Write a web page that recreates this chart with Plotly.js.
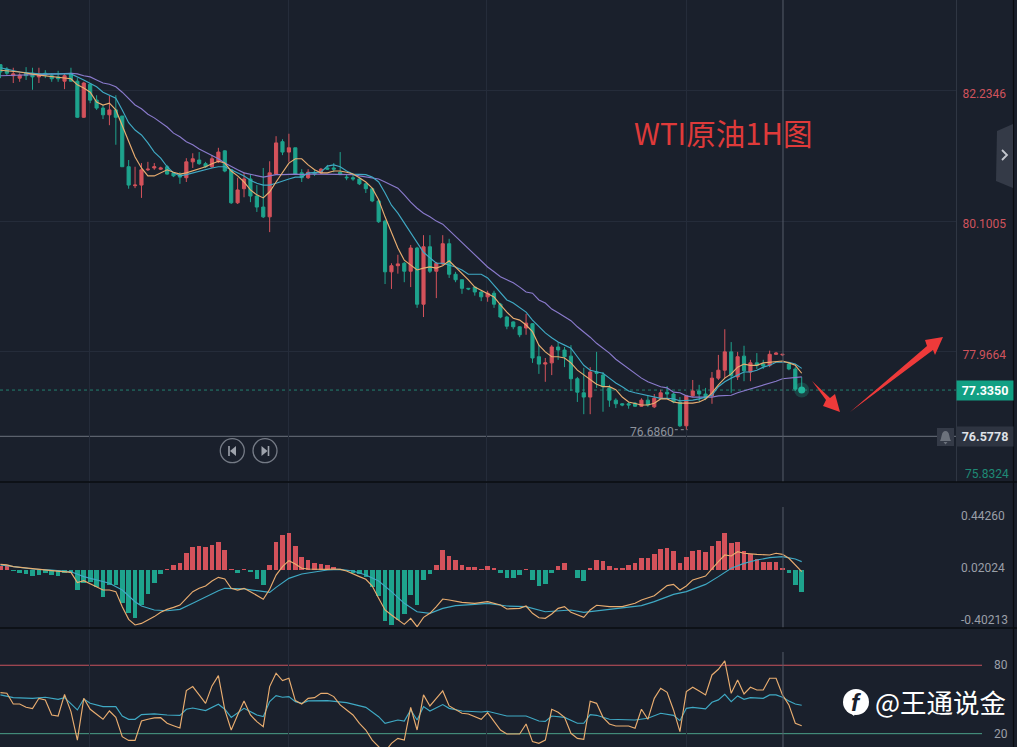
<!DOCTYPE html>
<html><head><meta charset="utf-8">
<script src="https://cdn.plot.ly/plotly-3.0.1.min.js"></script>
<style>html,body{margin:0;padding:0;background:#1a202c;overflow:hidden}#c{width:1017px;height:747px}</style>
</head><body><div id="c"></div>
<script>
// Candles, one per bar (index 0..125)
const candleHigh=[82.67,82.62,82.61,82.52,82.62,82.61,82.61,82.57,82.52,82.56,82.52,82.61,82.44,82.38,82.36,82.16,82.00,82.15,82.16,81.82,81.10,80.99,81.05,81.07,81.05,80.99,81.02,80.90,80.90,81.13,81.21,81.23,81.07,81.18,81.30,81.26,80.94,80.81,80.90,80.87,80.69,80.97,81.08,81.49,81.44,81.53,81.30,80.95,80.95,80.94,80.97,81.02,81.05,81.23,80.87,80.86,80.81,80.72,80.64,80.45,80.12,79.41,79.55,79.43,79.71,79.68,79.87,79.87,79.43,79.87,79.81,79.27,79.14,79.00,79.02,78.96,78.96,78.96,78.76,78.55,78.46,78.38,78.58,78.43,78.07,77.86,78.07,78.12,78.04,78.07,77.55,77.70,77.71,77.96,77.63,77.42,77.20,77.12,77.14,77.14,77.20,77.24,77.27,77.34,77.40,77.29,77.22,77.25,77.50,77.42,77.37,77.63,77.91,78.33,78.12,77.96,78.06,77.83,77.94,77.83,77.98,77.96,77.92,77.78,77.71,77.55];
const candleLow=[82.44,82.48,82.36,82.38,82.41,82.25,82.36,82.44,82.38,82.38,82.26,82.39,81.79,81.79,82.03,81.92,81.77,81.67,81.35,80.99,80.63,80.64,80.48,80.92,80.94,80.94,80.86,80.82,80.71,80.74,80.97,81.02,80.97,80.97,81.05,80.90,80.38,80.38,80.49,80.41,80.25,80.15,79.92,80.86,81.18,81.07,80.86,80.74,80.79,80.84,80.87,80.94,80.90,80.86,80.77,80.76,80.69,80.56,80.41,80.07,79.07,78.99,79.24,79.10,79.02,78.68,78.53,79.25,78.84,79.38,79.17,79.10,78.91,78.97,78.88,78.79,78.78,78.68,78.51,78.33,78.33,78.20,78.24,77.78,77.60,77.47,77.58,77.83,77.71,77.32,77.14,76.94,76.94,77.37,76.98,77.06,77.04,77.07,77.03,77.06,77.06,77.06,77.04,77.19,77.20,77.12,76.73,76.686,77.22,77.14,77.17,77.11,77.50,77.53,77.29,77.50,77.48,77.48,77.68,77.68,77.71,77.91,77.89,77.66,77.32,77.32];
const candleTop=[82.66,82.59,82.51,82.49,82.52,82.52,82.51,82.52,82.48,82.46,82.48,82.52,82.39,82.36,82.34,82.08,81.95,81.92,81.92,81.82,80.99,80.69,80.94,80.95,80.99,80.97,80.99,80.89,80.86,81.07,81.12,81.10,81.04,81.12,81.23,81.25,80.94,80.61,80.79,80.79,80.51,80.33,80.89,81.38,81.40,81.30,81.30,80.89,80.90,80.90,80.95,80.97,80.97,80.90,80.82,80.81,80.79,80.71,80.63,80.43,80.10,79.37,79.40,79.41,79.66,79.66,79.68,79.68,79.41,79.73,79.73,79.23,79.14,79.00,79.02,78.94,78.92,78.92,78.74,78.53,78.45,78.37,78.43,78.42,77.88,77.78,78.04,78.04,77.99,77.89,77.52,77.29,77.63,77.63,77.58,77.37,77.17,77.11,77.11,77.12,77.17,77.17,77.20,77.29,77.30,77.27,77.14,77.24,77.32,77.32,77.27,77.53,77.66,77.96,77.96,77.88,77.89,77.78,77.78,77.76,77.92,77.94,77.92,77.76,77.68,77.37];
const candleBottom=[82.54,82.52,82.48,82.44,82.48,82.46,82.46,82.49,82.43,82.43,82.39,82.39,81.80,81.80,82.08,81.95,81.84,81.84,81.80,80.99,80.69,80.68,80.69,80.94,80.97,80.95,80.87,80.84,80.82,80.81,81.07,81.04,80.99,80.99,81.07,80.92,80.40,80.40,80.63,80.51,80.33,80.17,80.17,80.87,81.23,81.23,80.87,80.81,80.81,80.87,80.89,80.95,80.95,80.86,80.81,80.79,80.71,80.63,80.43,80.09,79.27,79.27,79.37,79.28,79.28,78.74,78.74,79.28,79.28,79.40,79.23,79.14,79.00,78.99,78.94,78.86,78.86,78.74,78.53,78.38,78.37,78.24,78.35,77.86,77.76,77.76,77.78,77.99,77.88,77.52,77.30,77.22,77.22,77.61,77.39,77.17,77.11,77.09,77.09,77.07,77.07,77.09,77.06,77.20,77.27,77.14,76.75,76.75,77.24,77.27,77.20,77.24,77.53,77.66,77.57,77.55,77.65,77.63,77.74,77.73,77.74,77.92,77.91,77.68,77.35,77.335];
const risingBars=[2,3,6,10,13,17,21,22,23,24,25,29,30,33,34,37,38,42,43,45,48,50,61,62,64,66,68,69,76,82,85,86,92,100,102,103,107,108,111,112,113,115,117,120,121,122];
// Moving averages on price: [bar index, price]
const maFast=[[0,82.57],[3,82.54],[6,82.49],[9,82.46],[11,82.43],[12,82.33],[13,82.28],[14,82.21],[15,82.05],[16,82.00],[17,82.03],[18,81.92],[19,81.67],[20,81.40],[21,81.15],[22,80.97],[23,80.84],[24,80.84],[25,80.89],[26,80.94],[27,80.90],[28,80.87],[29,80.89],[30,80.92],[31,80.95],[32,80.99],[33,81.04],[34,81.08],[35,81.05],[36,80.92],[37,80.84],[38,80.74],[39,80.61],[40,80.53],[41,80.48],[42,80.58],[43,80.74],[44,80.90],[45,81.05],[46,81.12],[47,81.12],[48,81.02],[49,80.94],[50,80.89],[51,80.89],[52,80.92],[53,80.92],[54,80.90],[55,80.87],[56,80.81],[57,80.74],[58,80.64],[59,80.45],[60,80.17],[61,79.91],[62,79.66],[63,79.46],[64,79.38],[65,79.30],[66,79.33],[67,79.35],[68,79.33],[69,79.37],[70,79.45],[71,79.35],[72,79.25],[73,79.14],[74,79.02],[75,78.97],[76,78.92],[77,78.86],[78,78.73],[79,78.61],[80,78.51],[81,78.48],[82,78.40],[83,78.29],[84,78.07],[85,77.96],[86,77.88],[87,77.88],[88,77.86],[89,77.78],[90,77.66],[91,77.58],[92,77.50],[93,77.43],[94,77.39],[95,77.39],[96,77.34],[97,77.22],[98,77.14],[99,77.11],[100,77.09],[101,77.09],[102,77.12],[103,77.19],[104,77.19],[105,77.14],[106,77.12],[107,77.12],[108,77.12],[109,77.14],[110,77.19],[111,77.29],[112,77.42],[113,77.53],[114,77.60],[115,77.71],[116,77.76],[117,77.74],[118,77.74],[119,77.78],[120,77.79],[121,77.81],[122,77.81],[123,77.78],[124,77.74],[125,77.61]];
const maMid=[[0,82.61],[3,82.54],[6,82.51],[9,82.51],[11,82.51],[13,82.41],[14,82.36],[15,82.30],[16,82.21],[17,82.16],[18,82.11],[19,81.92],[20,81.71],[21,81.59],[22,81.51],[23,81.38],[24,81.23],[25,81.13],[26,80.99],[27,80.89],[28,80.84],[29,80.86],[30,80.89],[31,80.92],[32,80.95],[33,80.97],[34,80.99],[35,80.99],[36,80.94],[37,80.89],[38,80.84],[39,80.77],[40,80.72],[41,80.69],[42,80.69],[43,80.72],[44,80.76],[45,80.79],[46,80.82],[47,80.82],[48,80.89],[49,80.89],[50,80.90],[51,81.00],[52,81.02],[53,80.99],[54,80.92],[55,80.87],[56,80.86],[57,80.86],[58,80.82],[59,80.74],[60,80.56],[61,80.36],[62,80.23],[63,80.07],[64,79.91],[65,79.74],[66,79.59],[67,79.50],[68,79.41],[69,79.41],[70,79.38],[71,79.35],[72,79.30],[73,79.23],[74,79.23],[75,79.23],[76,79.17],[77,79.05],[78,78.92],[79,78.81],[80,78.76],[81,78.69],[82,78.61],[83,78.48],[84,78.37],[85,78.27],[86,78.19],[87,78.12],[88,78.07],[89,78.02],[90,77.88],[91,77.74],[92,77.66],[93,77.63],[94,77.61],[95,77.53],[96,77.45],[97,77.39],[98,77.32],[99,77.29],[100,77.27],[101,77.25],[102,77.22],[103,77.20],[104,77.20],[105,77.19],[106,77.16],[107,77.16],[108,77.17],[109,77.19],[110,77.22],[111,77.25],[112,77.39],[113,77.47],[114,77.53],[115,77.58],[116,77.63],[117,77.63],[118,77.66],[119,77.71],[120,77.74],[121,77.79],[122,77.79],[123,77.79],[124,77.76],[125,77.69]];
const maSlow=[[0,82.48],[3,82.49],[6,82.49],[9,82.51],[11,82.52],[12,82.51],[13,82.48],[14,82.46],[15,82.41],[16,82.36],[17,82.34],[18,82.30],[19,82.21],[20,82.11],[21,82.00],[22,81.94],[23,81.85],[24,81.79],[25,81.71],[26,81.64],[27,81.54],[28,81.48],[29,81.40],[30,81.35],[31,81.28],[32,81.23],[33,81.17],[34,81.12],[35,81.05],[36,80.99],[37,80.94],[38,80.89],[39,80.87],[40,80.84],[41,80.82],[42,80.84],[43,80.86],[44,80.86],[45,80.87],[46,80.87],[47,80.86],[48,80.87],[50,80.87],[52,80.87],[53,80.86],[55,80.86],[56,80.84],[57,80.82],[58,80.81],[59,80.79],[60,80.74],[61,80.69],[62,80.64],[63,80.53],[64,80.41],[65,80.31],[66,80.23],[67,80.17],[68,80.10],[69,80.05],[70,79.95],[71,79.84],[72,79.74],[73,79.64],[74,79.55],[75,79.45],[76,79.35],[77,79.27],[78,79.19],[79,79.14],[80,79.09],[81,79.02],[82,78.94],[83,78.92],[84,78.81],[85,78.76],[86,78.66],[87,78.60],[88,78.53],[89,78.47],[90,78.37],[91,78.29],[92,78.20],[93,78.10],[94,78.02],[95,77.94],[96,77.84],[97,77.76],[98,77.68],[99,77.61],[100,77.53],[101,77.47],[102,77.43],[103,77.39],[104,77.37],[105,77.30],[106,77.29],[107,77.24],[108,77.22],[109,77.22],[110,77.22],[111,77.22],[112,77.24],[113,77.24],[114,77.25],[115,77.29],[116,77.32],[117,77.35],[118,77.39],[119,77.42],[120,77.45],[121,77.48],[122,77.52],[123,77.53],[124,77.55],[125,77.55]];
// MACD histogram, one per bar
const macdHist=[.035,.035,-.008,-.022,-.035,-.049,-.038,-.027,-.041,-.046,-.027,-.027,-.163,-.108,-.095,-.136,-.217,-.122,-.122,-.271,-.352,-.393,-.285,-.198,-.108,-.033,.011,.041,.06,.136,.19,.198,.19,.2,.23,.163,.005,-.027,.008,-.019,-.076,-.122,.041,.23,.285,.304,.195,.108,.081,.06,.049,.043,.027,.008,-.008,-.022,-.033,-.06,-.136,-.211,-.412,-.447,-.407,-.36,-.203,-.285,-.081,-.033,.041,.163,.117,.081,.041,.027,.022,.011,.035,.016,-.022,-.065,-.065,-.038,.005,-.081,-.13,-.114,-.022,.035,.06,.003,-.065,-.087,.019,.081,.073,.035,.016,.019,.041,.054,.095,.098,.13,.168,.182,.154,.054,.108,.154,.163,.149,.195,.238,.304,.222,.23,.157,.127,.089,.062,.065,.068,.019,-.027,-.122,-.176];
const macdDif=[[0,.046],[1,.041],[2,.027],[5,.008],[8,-.005],[11,-.019],[12,-.103],[13,-.087],[14,-.114],[15,-.136],[16,-.163],[17,-.163],[18,-.176],[19,-.298],[20,-.401],[21,-.447],[22,-.434],[23,-.407],[24,-.379],[25,-.344],[26,-.32],[27,-.304],[28,-.285],[29,-.23],[30,-.176],[31,-.149],[32,-.13],[33,-.089],[34,-.06],[35,-.073],[36,-.149],[37,-.163],[38,-.149],[39,-.176],[40,-.209],[41,-.238],[42,-.157],[43,-.041],[44,.027],[45,.076],[46,.049],[47,.014],[48,.008],[49,.005],[51,.005],[52,.008],[53,.005],[54,-.008],[55,-.033],[56,-.054],[57,-.076],[58,-.13],[59,-.23],[60,-.325],[61,-.366],[62,-.407],[63,-.442],[64,-.393],[65,-.461],[66,-.385],[67,-.352],[68,-.298],[69,-.236],[70,-.244],[71,-.252],[72,-.263],[74,-.271],[76,-.257],[78,-.285],[79,-.317],[81,-.312],[82,-.293],[83,-.352],[84,-.388],[85,-.393],[86,-.358],[87,-.312],[88,-.298],[89,-.344],[91,-.385],[92,-.325],[93,-.287],[95,-.298],[97,-.298],[99,-.271],[100,-.244],[102,-.209],[104,-.127],[105,-.117],[106,-.163],[107,-.13],[108,-.081],[110,-.049],[111,.014],[112,.068],[113,.122],[114,.114],[115,.149],[116,.136],[118,.127],[120,.122],[121,.136],[122,.127],[123,.095],[124,.041],[125,-.014]];
const macdDea=[[0,.041],[2,.027],[5,.008],[8,0],[11,-.014],[13,-.054],[15,-.081],[17,-.108],[19,-.163],[21,-.258],[22,-.293],[23,-.312],[24,-.325],[26,-.331],[28,-.32],[30,-.271],[32,-.217],[34,-.168],[35,-.149],[36,-.149],[38,-.154],[40,-.168],[42,-.182],[43,-.141],[45,-.068],[47,-.033],[49,-.014],[51,0],[53,.005],[55,-.008],[57,-.041],[59,-.089],[61,-.176],[63,-.271],[65,-.339],[67,-.352],[69,-.312],[71,-.29],[74,-.279],[76,-.271],[79,-.293],[82,-.298],[85,-.339],[87,-.333],[89,-.325],[91,-.344],[93,-.333],[97,-.312],[100,-.29],[102,-.257],[105,-.198],[107,-.176],[110,-.117],[112,-.054],[114,.014],[116,.054],[118,.081],[120,.1],[122,.108],[124,.089],[125,.068]];
// RSI lines
const rsiFast=[[0,56],[1,55.4],[2,46],[3,46],[4,43.1],[5,42],[6,51],[7,49.6],[8,36.4],[9,35.5],[10,54.5],[11,39.3],[12,14.4],[13,51],[14,41.4],[15,37.3],[16,32.6],[17,39.9],[18,34.3],[19,17.4],[20,14.1],[21,14.1],[22,31.1],[23,32.6],[24,33.8],[25,34],[26,29.1],[27,27],[28,25],[29,57.8],[30,61.3],[31,54],[32,46.6],[33,61.9],[34,70.9],[35,40.8],[36,23.2],[37,36.4],[38,48.7],[39,36.4],[40,30.5],[41,26.1],[42,61.3],[43,73],[44,66.5],[45,68.6],[46,49],[47,46],[48,51],[49,51.6],[50,55.4],[51,55.4],[52,52.5],[53,45.2],[54,40.8],[55,36.4],[56,29.1],[57,23.2],[58,14.4],[59,8.6],[60,4.2],[61,11.5],[62,15.9],[63,14.4],[64,43.1],[65,23.2],[66,54],[67,44.3],[68,51],[69,57.5],[70,44.3],[71,40.8],[72,37.9],[73,37.3],[74,34.9],[75,32.6],[76,38.4],[77,30.5],[78,23.2],[79,19.7],[80,19.7],[81,19.7],[82,28.5],[83,13],[84,11.5],[85,14.4],[86,41.4],[87,38.7],[88,34.3],[89,20.3],[90,15.9],[91,15],[92,48.4],[93,46.6],[94,34.3],[95,28.5],[96,26.7],[97,26.7],[98,26.7],[99,24.7],[100,41.4],[101,32.6],[102,51],[103,59.8],[104,56.3],[105,40.8],[106,21.8],[107,56.9],[108,60.7],[109,57.5],[110,54],[111,71.5],[112,76.5],[113,83.8],[114,55.4],[115,67.1],[116,54.8],[117,60.7],[118,58.3],[119,58.3],[120,68.6],[121,68.6],[122,54],[123,45.2],[124,29.1],[125,27]];
const rsiSlow=[[0,54],[2,51.6],[5,51],[7,51.9],[9,50.1],[10,51.6],[12,40.8],[13,50.4],[14,46.6],[16,43.7],[18,43.7],[19,35.5],[20,32.6],[21,32.6],[22,36.7],[24,37.3],[26,36.4],[28,36.1],[29,41.4],[30,42.5],[32,40.2],[34,45.8],[35,41.4],[36,34.3],[38,42.2],[40,36.4],[41,34.9],[42,48.1],[43,53.4],[44,51.9],[45,52.5],[46,48.1],[47,46.6],[48,48.7],[51,49],[54,47.2],[57,43.1],[59,34.9],[60,29.1],[62,32],[63,31.1],[64,40.8],[65,32],[66,43.7],[67,39.9],[69,45.5],[70,42.2],[72,39.9],[75,39],[76,39.6],[79,35.5],[82,35.5],[84,31.1],[85,30.8],[86,35.5],[88,34.3],[90,29.1],[91,29.1],[92,36.7],[93,36.1],[95,32.6],[99,32],[101,33.5],[103,37.9],[105,36.1],[106,31.4],[107,42.2],[108,43.1],[110,41.7],[111,47.5],[112,49.6],[113,54.5],[114,48.1],[115,53.1],[116,50.1],[117,51.6],[119,51],[120,54],[121,54],[122,51.9],[123,48.7],[124,46],[125,44.9]];
// Axis labels and levels
const priceTicks=[82.2346,80.1005,77.9664];
const macdTicks=[0.44260,0.02024,-0.40213];
const rsiTicks=[80,20];
const lastPrice=77.3350, alertPrice=76.5778, lowestPrice=76.6860, axisBottomPrice=75.8324;
const crosshairBar=122.08;
const gridBars=[13.82,44.86,75.9,107.1];

const RED='#d4525b',TEAL='#1ea38d',BG='#1a202c',GRID='#252c3a',ORANGE='#e9ad70',CYAN='#3fa9c4',PURPLE='#8a7acc';
const W=956,H=747;
const bars=candleHigh.map((_,i)=>i);
const rising=new Set(risingBars);
const open=bars.map(i=>rising.has(i)?candleBottom[i]:candleTop[i]);
const close=bars.map(i=>rising.has(i)?candleTop[i]:candleBottom[i]);
const xs=a=>a.map(p=>p[0]), ys=a=>a.map(p=>p[1]);
const ln=(a,c,ya,w)=>({type:'scatter',mode:'lines',x:xs(a),y:ys(a),yaxis:ya,xaxis:'x',line:{color:c,width:w||1.15},hoverinfo:'skip'});

const data=[
 {type:'candlestick',x:bars,open:open,high:candleHigh,low:candleLow,close:close,xaxis:'x',yaxis:'y',
  increasing:{line:{color:RED,width:1},fillcolor:RED},decreasing:{line:{color:TEAL,width:1},fillcolor:TEAL},whiskerwidth:0,hoverinfo:'skip'},
 ln(maSlow,PURPLE,'y'),ln(maMid,CYAN,'y'),ln(maFast,ORANGE,'y'),
 {type:'scatter',mode:'markers',x:[125],y:[lastPrice],yaxis:'y',marker:{size:15,color:'rgba(30,190,160,.22)'},hoverinfo:'skip'},
 {type:'scatter',mode:'markers',x:[125],y:[lastPrice],yaxis:'y',marker:{size:7,color:'#22b79c'},hoverinfo:'skip'},
 {type:'bar',x:bars,y:macdHist,yaxis:'y2',xaxis:'x',width:.72,marker:{color:macdHist.map(v=>v>=0?RED:TEAL),line:{width:0}},hoverinfo:'skip'},
 ln(macdDea,CYAN,'y2'),ln(macdDif,ORANGE,'y2'),
 ln(rsiSlow,CYAN,'y3'),ln(rsiFast,ORANGE,'y3')
];

// helper: decoration placed by screen pixels
const px=(path,fill,line,lw)=>({type:'path',xref:'paper',yref:'paper',xanchor:0,yanchor:1,xsizemode:'pixel',ysizemode:'pixel',path:path,fillcolor:fill||'rgba(0,0,0,0)',line:{color:line||'rgba(0,0,0,0)',width:lw===undefined?0:lw},layer:'above'});
const circ=(cx,cy,r,fill,line,lw)=>({type:'circle',xref:'paper',yref:'paper',xanchor:0,yanchor:1,xsizemode:'pixel',ysizemode:'pixel',x0:cx-r,x1:cx+r,y0:-cy-r,y1:-cy+r,fillcolor:fill,line:{color:line||'rgba(0,0,0,0)',width:lw||0},layer:'above'});
const hline=(yv,yref,x1,c,dash,w)=>({type:'line',xref:'paper',x0:0,x1:x1,yref:yref,y0:yv,y1:yv,line:{color:c,width:w||1,dash:dash||'solid'},layer:'below'});
const shapes=[
 hline(lastPrice,'y',1,'#23806f','3px,3px'),
 hline(alertPrice,'y',1,'#6c727d'),
 hline(80,'y3',982/W,'#c8525c'),
 hline(20,'y3',982/W,'#4a9e88'),
 {type:'line',x0:crosshairBar,x1:crosshairBar,xref:'x',yref:'paper',y0:1-482/H,y1:1,line:{color:'#565d69',width:1}},
 {type:'line',x0:crosshairBar,x1:crosshairBar,xref:'x',yref:'paper',y0:1-628/H,y1:1-507/H,line:{color:'#565d69',width:1}},
 {type:'line',x0:crosshairBar,x1:crosshairBar,xref:'x',yref:'paper',y0:0,y1:1-652/H,line:{color:'#565d69',width:1}},
 {type:'line',x0:105.2,x1:107.2,xref:'x',y0:lowestPrice,y1:lowestPrice,yref:'y',line:{color:'#8b9099',width:1,dash:'dot'}},
 px('M0,-482 L1017,-482',null,'#0a0c10',1.4),
 px('M0,-628 L1017,-628',null,'#0a0c10',1.4),
 px('M1013.5,0 L1013.5,-747',null,'#0a0c10',1.2),
 px('M812,-381 L830,-398 L835,-394 L840,-412 L823,-406 L826,-400 Z','#ee3a3a'),
 px('M850,-412 L927,-346 L925,-340 L943,-337 L935,-355 L933,-350 Z','#ee3a3a'),
 px('M997,-131 L1013,-124 L1013,-188 L996,-181 Z','#343a47'),
 px('M1002,-150 L1007,-155 L1002,-160',null,'#c4c8cf',1.8),
 circ(232.3,450.7,12,'rgba(0,0,0,0)','#757b86',1.3),
 circ(265,450.7,12,'rgba(0,0,0,0)','#757b86',1.3),
 px('M236,-446 L236,-456 L230,-451 Z','#9ea3ac'),px('M229,-446 L229,-456',null,'#9ea3ac',1.6),
 px('M261.5,-446 L261.5,-456 L267.5,-451 Z','#9ea3ac'),px('M268.5,-446 L268.5,-456',null,'#9ea3ac',1.6),
 px('M937,-428 L954,-428 L954,-446 L937,-446 Z','#343a47'),
 px('M945.5,-431 C950,-431 949,-438 951,-441 L940,-441 C942,-438 941,-431 945.5,-431 Z M943.5,-442 L947.5,-442 L945.5,-444.5 Z','#6c727c'),
 circ(856,702,13,'#ffffff'),
 px('M848,-711 L854,-716 L856,-711 Z','#ffffff')
];
const ann=(x,y,text,size,color,anchor,extra)=>Object.assign({xref:'paper',yref:'paper',x:x/W,y:1-y/H,text:text,showarrow:false,xanchor:anchor||'left',yanchor:'middle',font:{size:size,color:color,family:'Roboto, sans-serif'}},extra||{});
const annotations=[
 ann(632,132,'WTI原油1H图',29.5,'#df3a3a','left',{font:{size:29.5,color:'#df3a3a',family:'"Noto Sans CJK SC", "Noto Sans", sans-serif'}}),
 ann(873,701,'@王通说金',26.5,'#ffffff','left',{font:{size:26.5,color:'#ffffff',family:'"Noto Sans CJK SC", sans-serif'}}),
 ann(856,702,'<b><i>f</i></b>',24,'#1a202c','center',{font:{size:24,color:'#1a202c',family:'Liberation Sans, sans-serif'}}),
 ann(985,391,'<b>'+lastPrice.toFixed(4)+'</b>',12.5,'#ffffff','center',{bgcolor:'#12a084',width:56,height:19,borderpad:0}),
 ann(985,437,'<b>'+alertPrice.toFixed(4)+'</b>',12.5,'#dfe2e7','center',{bgcolor:'#2e3441',width:56,height:19,borderpad:0}),
 ann(963,474,axisBottomPrice.toFixed(4),12,'#1f8a76','left'),
 {xref:'x',yref:'y',x:105.4,y:lowestPrice,text:lowestPrice.toFixed(4),showarrow:false,xanchor:'right',yanchor:'middle',yshift:-2,font:{size:12,color:'#8e939c',family:'Roboto, sans-serif'}}
];
const layout={
 width:1017,height:747,margin:{l:0,r:61,t:0,b:0,pad:0},paper_bgcolor:BG,plot_bgcolor:BG,showlegend:false,hovermode:false,dragmode:false,bargap:0,
 xaxis:{domain:[0,1],range:[-0.07,149.07],tickmode:'array',tickvals:gridBars,ticktext:gridBars.map(()=>''),showgrid:true,gridcolor:GRID,gridwidth:1,zeroline:false,showline:false,ticks:'',rangeslider:{visible:false},anchor:'y3',fixedrange:true},
 yaxis:{domain:[1-482/H,1],range:[75.83,83.719],side:'right',anchor:'x',tickmode:'array',tickvals:priceTicks,ticktext:priceTicks.map(v=>v.toFixed(4)),tickfont:{size:12,color:'#cf535d',family:'Roboto, sans-serif'},showgrid:true,gridcolor:GRID,zeroline:false,showline:true,linecolor:'#2f3643',ticks:'',ticklabelstandoff:3,ticklabelshift:3,fixedrange:true},
 yaxis2:{domain:[1-628/H,1-483/H],range:[-0.4715,0.707],side:'right',anchor:'x',tickmode:'array',tickvals:macdTicks,ticktext:macdTicks.map(v=>v.toFixed(5)),tickfont:{size:12,color:'#9a9fa8',family:'Roboto, sans-serif'},showgrid:false,zeroline:false,ticks:'',ticklabelstandoff:4,fixedrange:true},
 yaxis3:{domain:[0,1-629/H],range:[8.3,111.8],side:'right',anchor:'x',tickmode:'array',tickvals:rsiTicks,ticktext:rsiTicks.map(String),tickfont:{size:12,color:'#9a9fa8',family:'Roboto, sans-serif'},showgrid:false,zeroline:false,ticks:'',ticklabelstandoff:37,fixedrange:true},
 shapes:shapes,annotations:annotations
};
Plotly.newPlot('c',data,layout,{displayModeBar:false,staticPlot:true});
</script></body></html>
